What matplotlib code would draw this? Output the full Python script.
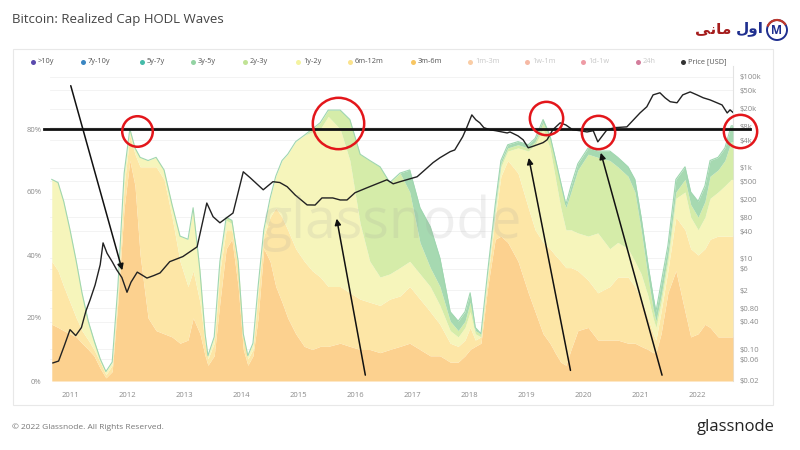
import matplotlib.pyplot as plt
import matplotlib.patches as mpatches
import numpy as np

plt.rcParams['font.family'] = ['Open Sans', 'DejaVu Sans']

# HODL wave bands: cumulative top edge of each band (%)
years = [2010.68, 2010.79, 2010.89, 2011.00, 2011.11, 2011.21, 2011.32, 2011.42, 2011.53, 2011.63,
         2011.74, 2011.84, 2011.95, 2012.05, 2012.14, 2012.23, 2012.37, 2012.51, 2012.65, 2012.79,
         2012.93, 2013.07, 2013.16, 2013.28, 2013.37, 2013.42, 2013.53, 2013.63, 2013.74, 2013.84,
         2013.95, 2014.04, 2014.12, 2014.21, 2014.30, 2014.40, 2014.51, 2014.61, 2014.72, 2014.82,
         2014.96, 2015.11, 2015.25, 2015.39, 2015.53, 2015.74, 2015.91, 2016.09, 2016.26, 2016.44,
         2016.61, 2016.79, 2016.96, 2017.14, 2017.32, 2017.49, 2017.67, 2017.81, 2017.93, 2018.02,
         2018.11, 2018.21, 2018.33, 2018.46, 2018.56, 2018.68, 2018.86, 2019.04, 2019.16, 2019.30,
         2019.42, 2019.51, 2019.61, 2019.70, 2019.79, 2019.91, 2020.09, 2020.26, 2020.47, 2020.61,
         2020.79, 2020.91, 2021.02, 2021.14, 2021.23, 2021.28, 2021.37, 2021.49, 2021.63, 2021.79,
         2021.89, 2022.02, 2022.14, 2022.23, 2022.37, 2022.49, 2022.60, 2022.63]
top_3m6m = [18, 17, 16, 15, 14, 12, 10, 8, 4, 1,
            3, 25, 55, 70, 62, 40, 20, 16, 15, 14,
            12, 13, 20, 15, 8, 5, 8, 25, 42, 45,
            30, 10, 5, 8, 20, 42, 38, 30, 25, 20,
            15, 11, 10, 11, 11, 12, 11, 10, 10, 9,
            10, 11, 12, 10, 8, 8, 6, 6, 8, 10,
            11, 12, 30, 45, 46, 44, 38, 28, 22, 15,
            12, 9, 6, 5, 10, 16, 17, 13, 13, 13,
            12, 12, 11, 10, 9, 9, 15, 28, 35, 22,
            14, 15, 18, 17, 14, 14, 14, 14]
top_6m12m = [38, 35, 30, 25, 20, 16, 13, 10, 6, 2,
             5, 28, 62, 78, 72, 68, 68, 68, 64, 52,
             38, 30, 35, 25, 12, 7, 12, 35, 48, 48,
             36, 14, 7, 10, 28, 46, 52, 55, 52, 48,
             42, 38, 35, 33, 30, 30, 28, 26, 25, 24,
             26, 27, 30, 26, 22, 18, 12, 11, 13, 17,
             13, 14, 33, 52, 65, 70, 66, 55, 48, 44,
             42, 40, 38, 36, 36, 35, 32, 28, 30, 33,
             33, 30, 26, 20, 15, 13, 22, 35, 52, 48,
             42, 40, 42, 45, 46, 46, 46, 46]
top_1y2y = [64, 63, 57, 48, 38, 28, 18, 12, 7, 3,
            6, 30, 66, 80, 74, 71, 70, 71, 67, 56,
            46, 45, 55, 35, 15, 8, 14, 38, 51, 50,
            38, 15, 8, 12, 30, 48, 58, 65, 70, 72,
            76, 78, 79, 80, 84, 80, 70, 50, 38, 33,
            34, 36, 38, 34, 30, 24, 16, 14, 17, 22,
            15, 14, 34, 54, 68, 73, 74, 73, 75, 80,
            74, 65, 55, 48, 48, 47, 46, 47, 42, 44,
            42, 38, 34, 27, 20, 17, 25, 38, 58, 60,
            52, 48, 52, 58, 60, 62, 64, 64]
top_2y3y = [64, 63, 57, 48, 38, 28, 19, 13, 7, 3,
            6, 30, 66, 80, 74, 71, 70, 71, 67, 56,
            46, 45, 55, 35, 15, 8, 14, 38, 52, 51,
            38, 15, 8, 12, 30, 48, 58, 65, 70, 72,
            76, 78, 80, 82, 86, 86, 83, 72, 70, 68,
            63, 66, 60, 44, 36, 30, 19, 16, 19, 25,
            16, 15, 35, 55, 69, 74, 75, 74, 76, 82,
            77, 70, 62, 55, 60, 67, 72, 71, 70, 68,
            65, 60, 48, 33, 23, 19, 27, 40, 60, 64,
            56, 52, 57, 65, 67, 70, 76, 76]
top_3y5y = [64, 63, 57, 48, 38, 28, 19, 13, 7, 3,
            6, 30, 66, 80, 74, 71, 70, 71, 67, 56,
            46, 45, 55, 35, 15, 8, 14, 38, 52, 51,
            38, 15, 8, 12, 30, 48, 58, 65, 70, 72,
            76, 78, 80, 82, 86, 86, 83, 72, 70, 68,
            63, 66, 67, 55, 49, 39, 22, 19, 22, 28,
            17, 15, 35, 56, 70, 75, 76, 75, 77, 83,
            78, 71, 63, 56, 62, 69, 74, 73, 73, 71,
            68, 64, 52, 37, 27, 22, 31, 43, 64, 68,
            60, 57, 62, 70, 71, 74, 81, 81]

# Price (USD)
price_years = [2010.70, 2010.80, 2010.90, 2011.00, 2011.10, 2011.20, 2011.28, 2011.35, 2011.44, 2011.53,
               2011.58, 2011.65, 2011.74, 2011.82, 2011.91, 2012.00, 2012.07, 2012.18, 2012.35, 2012.47,
               2012.58, 2012.75, 2012.98, 2013.23, 2013.40, 2013.51, 2013.63, 2013.86, 2014.04, 2014.16,
               2014.39, 2014.56, 2014.68, 2014.81, 2014.95, 2015.16, 2015.30, 2015.42, 2015.61, 2015.74,
               2015.86, 2016.00, 2016.21, 2016.44, 2016.56, 2016.67, 2016.79, 2017.09, 2017.23, 2017.37,
               2017.49, 2017.67, 2017.75, 2017.89, 2017.96, 2018.05, 2018.12, 2018.19, 2018.26, 2018.37,
               2018.47, 2018.67, 2018.72, 2018.86, 2018.95, 2019.04, 2019.14, 2019.30, 2019.37, 2019.47,
               2019.60, 2019.70, 2019.82, 2019.95, 2020.07, 2020.18, 2020.26, 2020.42, 2020.56, 2020.77,
               2021.00, 2021.12, 2021.23, 2021.35, 2021.44, 2021.53, 2021.65, 2021.75, 2021.88, 2022.00,
               2022.11, 2022.23, 2022.35, 2022.44, 2022.53, 2022.58, 2022.63]
price_usd = [0.05, 0.055, 0.12, 0.27, 0.2, 0.3, 0.7, 1.2, 2.6, 7.3,
             22, 13, 8.5, 5.6, 3.8, 1.8, 3.0, 5.0, 3.7, 4.2,
             4.8, 8.5, 11, 18, 166, 83, 61, 100, 810, 600,
             325, 490, 470, 380, 250, 151, 150, 215, 215, 194,
             194, 280, 360, 470, 540, 440, 490, 630, 900, 1290,
             1650, 2250, 2450, 4800, 7600, 14500, 11300, 9700, 7600, 6800,
             6500, 5800, 6100, 5000, 4100, 2730, 3000, 3550, 4100, 6800,
             9700, 8700, 6800, 6500, 6100, 6500, 3700, 6800, 7600, 7900,
             16000, 21900, 40000, 44500, 34500, 28300, 26800, 40000, 46500, 40000,
             34500, 31000, 26800, 24000, 16000, 18700, 16500]

band_names = ['3m-6m', '6m-12m', '1y-2y', '2y-3y', '3y-5y']
band_colors = ['#fcd18f', '#fde6a6', '#f6f5bb', '#d5eca9', '#a6d9b1']

legend_names = ['>10y', '7y-10y', '5y-7y', '3y-5y', '2y-3y', '1y-2y', '6m-12m',
                '3m-6m', '1m-3m', '1w-1m', '1d-1w', '24h', 'Price [USD]']
legend_colors = ['#5a4aad', '#3a86c2', '#45bba9', '#93d3a3', '#c0e395', '#f4f3a0', '#fbe38d',
                 '#f8c662', '#f6a45c', '#f0805c', '#e04a5c', '#b0124a', '#333333']
legend_active = [True] * 8 + [False] * 4 + [True]
legend_x = [33, 83, 142, 193, 245, 298, 350, 413, 470, 527, 583, 638, 683]

pct_ticks = [0, 20, 40, 60, 80]
usd_ticks = [1e5, 5e4, 2e4, 8e3, 4e3, 1e3, 500, 200, 80, 40, 10, 6, 2, 0.8, 0.4, 0.1, 0.06, 0.02]
usd_labels = ['$100k', '$50k', '$20k', '$8k', '$4k', '$1k', '$500', '$200', '$80', '$40',
              '$10', '$6', '$2', '$0.80', '$0.40', '$0.10', '$0.06', '$0.02']
year_ticks = list(range(2011, 2023))

# hand-drawn markup on the chart (year, percent)
level_line = 80
circles = [(2012.18, 79.4, 22), (2015.70, 81.9, 37), (2019.35, 83.5, 24),
           (2020.26, 79.0, 24), (2022.75, 79.4, 24)]
arrows = [((2011.00, 94.6), (2011.93, 34.3)),
          ((2016.19, 1.0), (2015.67, 52.4)),
          ((2019.79, 2.5), (2019.04, 71.7)),
          ((2021.40, 1.0), (2020.30, 73.3))]

fig = plt.figure(figsize=(8, 4.5), dpi=100)
fig.patch.set_facecolor('white')

# overlay in pixel coordinates for the page furniture
ov = fig.add_axes([0, 0, 1, 1])
ov.set_xlim(0, 800)
ov.set_ylim(450, 0)
ov.axis('off')
ov.add_patch(mpatches.Rectangle((13, 49), 760, 356, fill=False, ec='#e8e8e8', lw=0.8))

rect = [50 / 800, 1 - 381 / 450, 683 / 800, 315 / 450]
xlim = (2010.649, 2022.632)

# price axis (right, log) sits underneath so its grid stays behind the waves
axp = fig.add_axes(rect)
axp.set_xlim(*xlim)
axp.set_yscale('log')
axp.set_ylim(0.02, 1.73e5)
axp.yaxis.tick_right()
axp.set_yticks(usd_ticks)
axp.set_yticklabels(usd_labels)
axp.yaxis.set_minor_locator(plt.NullLocator())
axp.set_xticks([])
axp.tick_params(axis='y', length=0, labelsize=5.5, labelcolor='#8a8a8a', pad=5)
axp.grid(axis='y', color='#f1f1f1', lw=0.6)
for s in axp.spines.values():
    s.set_visible(False)
axp.spines['right'].set_visible(True)
axp.spines['right'].set_color('#e2e2e2')
axp.spines['right'].set_linewidth(0.8)

# waves axis on top
ax = fig.add_axes(rect)
ax.set_xlim(*xlim)
ax.set_ylim(0, 100)
ax.patch.set_visible(False)
for s in ax.spines.values():
    s.set_visible(False)

edges = [np.zeros(len(years)), top_3m6m, top_6m12m, top_1y2y, top_2y3y, top_3y5y]
for i, (name, col) in enumerate(zip(band_names, band_colors)):
    ax.fill_between(years, edges[i], edges[i + 1], color=col, lw=0, zorder=2, label=name)
ax.plot(years, top_3y5y, color='#9fd6b0', lw=0.8, zorder=2)

# price line drawn in the price axis' coordinates
ax.plot(price_years, price_usd, color='#222222', lw=1.0, zorder=5, transform=axp.transData)

ax.set_yticks(pct_ticks)
ax.set_yticklabels([f'{p}%' for p in pct_ticks])
ax.set_xticks(year_ticks)
ax.set_xticklabels([str(y) for y in year_ticks])
ax.tick_params(axis='both', length=0, labelsize=5.5, labelcolor='#8a8a8a')
ax.tick_params(axis='y', pad=6)
ax.tick_params(axis='x', pad=8)

# watermark
ax.text(0.50, 0.50, 'glassnode', transform=ax.transAxes, fontsize=40, color='#9a9a9a',
        alpha=0.15, ha='center', va='center', zorder=6)

# markup
ax.plot([2010.54, 2022.93], [level_line, level_line], color='#111111', lw=2,
        clip_on=False, zorder=7)
for cx, cy, ms in circles:
    ax.plot(cx, cy, 'o', ms=ms, mfc='none', mec='#e3161b', mew=1.8, clip_on=False, zorder=8)
for tail, head in arrows:
    ax.annotate('', xy=head, xytext=tail,
                arrowprops=dict(arrowstyle='-|>', color='#111111', lw=1.1, mutation_scale=9),
                zorder=8, annotation_clip=False)

# title
ov.text(12, 19, 'Bitcoin: Realized Cap HODL Waves', fontsize=9.5, color='#444444', va='center')

# legend row
for x, name, col, on in zip(legend_x, legend_names, legend_colors, legend_active):
    ov.plot(x, 61.5, 'o', ms=3.6, color=col, mec='none', alpha=1 if on else 0.55)
    ov.text(x + 5, 61.5, name, fontsize=5.3, va='center',
            color='#555555' if on else '#c8c8c8')

# logo
ov.add_patch(mpatches.Circle((777, 30), 10, fill=False, ec='#1f2f8f', lw=1.4))
ov.add_patch(mpatches.Arc((777, 30), 20, 20, theta1=200, theta2=330, ec='#c0392b', lw=1.6))
ov.text(777, 30.5, 'M', fontsize=8.5, fontweight='bold', color='#1f2f8f', ha='center', va='center')
ov.text(764, 29, '\uFEDD\uFEED\uFE8D', fontsize=11, fontweight='bold', color='#1f2f8f',
        ha='right', va='center', family='DejaVu Sans')
ov.text(731, 29, '\uFBFD\uFEE7\uFE8E\uFEE3', fontsize=11, fontweight='bold', color='#a51d1d',
        ha='right', va='center', family='DejaVu Sans')

# footer
ov.text(12, 427, '\u00a9 2022 Glassnode. All Rights Reserved.', fontsize=6, color='#777777', va='center')
ov.text(775, 427, 'glassnode', fontsize=12, color='#222222', ha='right', va='center')

fig.savefig('out.png', dpi=100)
